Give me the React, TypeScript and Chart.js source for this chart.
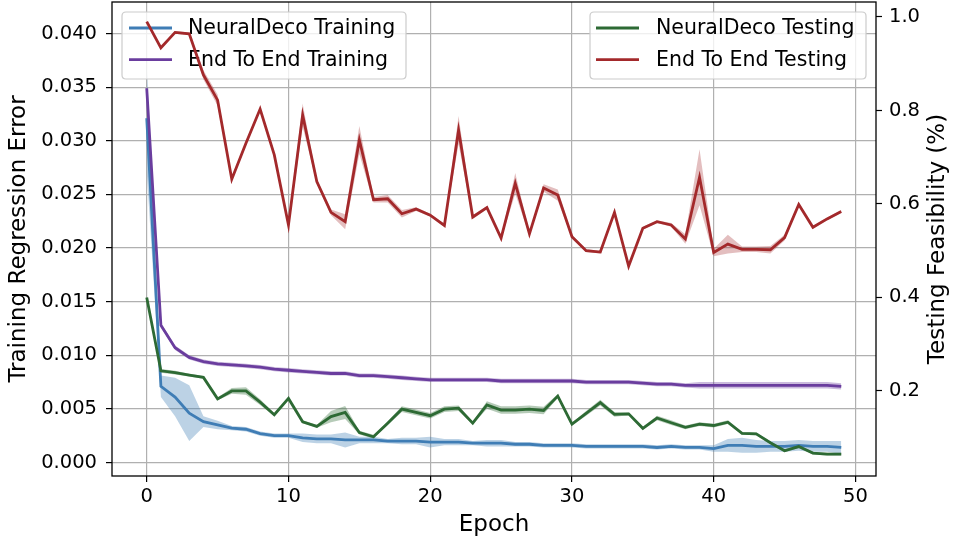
import React, { useEffect, useRef } from 'react';
import { Chart, registerables } from 'chart.js';

Chart.register(...registerables);

// ---------- data ----------
const epochs = [
  0, 1, 2, 3, 4, 5, 6, 7, 8, 9,
  10, 11, 12, 13, 14, 15, 16, 17, 18, 19,
  20, 21, 22, 23, 24, 25, 26, 27, 28, 29,
  30, 31, 32, 33, 34, 35, 36, 37, 38, 39,
  40, 41, 42, 43, 44, 45, 46, 47, 48, 49,
];
const xTicks = [0, 10, 20, 30, 40, 50];
const leftTicks = [0, 0.005, 0.01, 0.015, 0.02, 0.025, 0.03, 0.035, 0.04];
const rightTicks = [0.2, 0.4, 0.6, 0.8, 1.0];

// NeuralDeco Training (left axis)
const neuralTrain = [
  0.0321, 0.0071, 0.0061, 0.0046, 0.0038, 0.0035, 0.0032, 0.0031, 0.0027, 0.0025,
  0.0025, 0.0023, 0.0022, 0.0022, 0.0021, 0.0021, 0.0021, 0.0020, 0.0020, 0.0020,
  0.0019, 0.0019, 0.0019, 0.0018, 0.0018, 0.0018, 0.0017, 0.0017, 0.0016, 0.0016,
  0.0016, 0.0015, 0.0015, 0.0015, 0.0015, 0.0015, 0.0014, 0.0015, 0.0014, 0.0014,
  0.0013, 0.0016, 0.0016, 0.0015, 0.0015, 0.0015, 0.0016, 0.0015, 0.0015, 0.0014,
];
const neuralTrainStd = [
  0.005, 0.001, 0.0018, 0.0026, 0.0005, 0.0004, 0.0002, 0.0002, 0.0002, 0.0002,
  0.0002, 0.0004, 0.0004, 0.0004, 0.0007, 0.0003, 0.0003, 0.0002, 0.0003, 0.0003,
  0.0005, 0.0003, 0.0003, 0.0002, 0.0003, 0.0003, 0.0002, 0.0002, 0.0002, 0.0002,
  0.0002, 0.0002, 0.0002, 0.0002, 0.0002, 0.0002, 0.0002, 0.0002, 0.0002, 0.0002,
  0.0003, 0.0006, 0.0007, 0.0006, 0.0005, 0.0005, 0.0005, 0.0005, 0.0005, 0.0006,
];

// End To End Training (left axis)
const e2eTrain = [
  0.0349, 0.0128, 0.0107, 0.0098, 0.0094, 0.0092, 0.0091, 0.0090, 0.0089, 0.0087,
  0.0086, 0.0085, 0.0084, 0.0083, 0.0083, 0.0081, 0.0081, 0.0080, 0.0079, 0.0078,
  0.0077, 0.0077, 0.0077, 0.0077, 0.0077, 0.0076, 0.0076, 0.0076, 0.0076, 0.0076,
  0.0076, 0.0075, 0.0075, 0.0075, 0.0075, 0.0074, 0.0073, 0.0073, 0.0072, 0.0072,
  0.0072, 0.0072, 0.0072, 0.0072, 0.0072, 0.0072, 0.0072, 0.0072, 0.0072, 0.0071,
];
const e2eTrainStd = [
  0.0004, 0.0002, 0.0002, 0.0002, 0.0002, 0.0002, 0.0002, 0.0002, 0.0002, 0.0002,
  0.0002, 0.0002, 0.0002, 0.0002, 0.0002, 0.0002, 0.0002, 0.0002, 0.0002, 0.0002,
  0.0002, 0.0002, 0.0002, 0.0002, 0.0002, 0.0002, 0.0002, 0.0002, 0.0002, 0.0002,
  0.0002, 0.0002, 0.0002, 0.0002, 0.0002, 0.0002, 0.0002, 0.0002, 0.0002, 0.0003,
  0.0003, 0.0003, 0.0003, 0.0003, 0.0003, 0.0003, 0.0003, 0.0003, 0.0003, 0.0003,
];

// NeuralDeco Testing (right axis)
const neuralTest = [
  0.40, 0.243, 0.239, 0.234, 0.229, 0.183, 0.20, 0.20, 0.176, 0.149,
  0.184, 0.134, 0.124, 0.145, 0.154, 0.111, 0.102, 0.131, 0.161, 0.154,
  0.147, 0.161, 0.163, 0.131, 0.17, 0.159, 0.159, 0.161, 0.158, 0.189,
  0.129, 0.152, 0.175, 0.15, 0.151, 0.12, 0.142, 0.132, 0.122, 0.129,
  0.126, 0.133, 0.109, 0.108, 0.089, 0.072, 0.081, 0.067, 0.065, 0.065,
];
const neuralTestStd = [
  0.003, 0.004, 0.004, 0.003, 0.003, 0.003, 0.006, 0.008, 0.006, 0.003,
  0.003, 0.003, 0.003, 0.012, 0.014, 0.004, 0.004, 0.004, 0.006, 0.006,
  0.006, 0.006, 0.006, 0.003, 0.008, 0.008, 0.008, 0.008, 0.008, 0.004,
  0.003, 0.005, 0.006, 0.005, 0.003, 0.003, 0.005, 0.005, 0.004, 0.004,
  0.004, 0.004, 0.003, 0.003, 0.003, 0.003, 0.003, 0.003, 0.003, 0.003,
];

// End To End Testing (right axis)
const e2eTest = [
  0.99, 0.934, 0.967, 0.964, 0.876, 0.822, 0.653, 0.73, 0.803, 0.705,
  0.555, 0.79, 0.648, 0.582, 0.562, 0.737, 0.609, 0.611, 0.579, 0.589,
  0.576, 0.554, 0.758, 0.572, 0.592, 0.527, 0.644, 0.536, 0.634, 0.619,
  0.53, 0.50, 0.497, 0.582, 0.467, 0.548, 0.562, 0.555, 0.525, 0.657,
  0.496, 0.514, 0.503, 0.503, 0.502, 0.528, 0.599, 0.55, 0.568, 0.584,
];
const e2eTestStd = [
  0.003, 0.003, 0.003, 0.003, 0.01, 0.012, 0.004, 0.003, 0.004, 0.004,
  0.008, 0.025, 0.005, 0.006, 0.016, 0.03, 0.006, 0.008, 0.008, 0.004,
  0.003, 0.003, 0.03, 0.004, 0.003, 0.003, 0.022, 0.004, 0.008, 0.012,
  0.004, 0.003, 0.003, 0.003, 0.003, 0.003, 0.003, 0.004, 0.01, 0.06,
  0.008, 0.02, 0.006, 0.006, 0.008, 0.006, 0.004, 0.003, 0.003, 0.003,
];

const leftLegendLabels = ['NeuralDeco Training', 'End To End Training'];
const rightLegendLabels = ['NeuralDeco Testing', 'End To End Testing'];

// ---------- styles ----------
const FONT = "'DejaVu Sans', sans-serif";
const BLUE = '#3f7db5';
const PURPLE = '#6a3d9e';
const GREEN = '#2d6a34';
const RED = '#a3292b';
const LW = 2.8;

function meanPts(mean: number[]) {
  return epochs.map((e, i) => ({ x: e, y: mean[i] }));
}
function bandPts(mean: number[], std: number[], sign: number) {
  return epochs.map((e, i) => ({ x: e, y: mean[i] + sign * std[i] }));
}
function series(label: string, mean: number[], std: number[], color: string, fillColor: string, axis: string, base: number) {
  return [
    { label, data: meanPts(mean), borderColor: color, borderWidth: LW, pointRadius: 0, yAxisID: axis, fill: false, tension: 0 },
    { label: label + ' lo', data: bandPts(mean, std, -1), borderColor: 'rgba(0,0,0,0)', borderWidth: 1, pointRadius: 0, yAxisID: axis, fill: base + 2, backgroundColor: fillColor },
    { label: label + ' hi', data: bandPts(mean, std, 1), borderColor: 'rgba(0,0,0,0)', borderWidth: 1, pointRadius: 0, yAxisID: axis, fill: false },
  ];
}

function drawLegend(ctx: CanvasRenderingContext2D, x: number, y: number, w: number, h: number, labels: string[], colors: string[], sampleX: number, textX: number) {
  ctx.save();
  const r = 4;
  ctx.beginPath();
  ctx.moveTo(x + r, y);
  ctx.lineTo(x + w - r, y);
  ctx.quadraticCurveTo(x + w, y, x + w, y + r);
  ctx.lineTo(x + w, y + h - r);
  ctx.quadraticCurveTo(x + w, y + h, x + w - r, y + h);
  ctx.lineTo(x + r, y + h);
  ctx.quadraticCurveTo(x, y + h, x, y + h - r);
  ctx.lineTo(x, y + r);
  ctx.quadraticCurveTo(x, y, x + r, y);
  ctx.closePath();
  ctx.fillStyle = 'rgba(255,255,255,0.8)';
  ctx.fill();
  ctx.strokeStyle = '#cccccc';
  ctx.lineWidth = 1.2;
  ctx.stroke();
  labels.forEach((lab, i) => {
    const ry = y + 16 + i * 31.6;
    ctx.beginPath();
    ctx.moveTo(sampleX, ry);
    ctx.lineTo(sampleX + 43, ry);
    ctx.strokeStyle = colors[i];
    ctx.lineWidth = LW;
    ctx.stroke();
    ctx.fillStyle = '#000';
    ctx.font = `20.5px ${FONT}`;
    ctx.textAlign = 'left';
    ctx.textBaseline = 'middle';
    ctx.fillText(lab, textX, ry + 1);
  });
  ctx.restore();
}

const overlay = {
  id: 'overlay',
  afterDatasetDraw(chart: any, args: any) {
    if (args.index === 6) {
      drawLegend(chart.ctx, 122, 12, 284, 67, leftLegendLabels, [BLUE, PURPLE], 129, 188);
    }
  },
  afterDraw(chart: any) {
    const ctx = chart.ctx as CanvasRenderingContext2D;
    const a = chart.chartArea;
    ctx.save();
    ctx.strokeStyle = '#000';
    ctx.lineWidth = 1.3;
    ctx.strokeRect(a.left, a.top, a.right - a.left, a.bottom - a.top);
    ctx.restore();
    drawLegend(ctx, 590, 12, 276, 67, rightLegendLabels, [GREEN, RED], 596, 656);
    ctx.save();
    ctx.translate(938, (a.top + a.bottom) / 2);
    ctx.rotate(-Math.PI / 2);
    ctx.fillStyle = '#000';
    ctx.font = `23px ${FONT}`;
    ctx.textAlign = 'center';
    ctx.textBaseline = 'middle';
    ctx.fillText('Testing Feasibility (%)', 0, 0);
    ctx.restore();
  },
};

export default function App() {
  const ref = useRef<HTMLCanvasElement | null>(null);
  useEffect(() => {
    if (!ref.current) return;
    const datasets: any[] = [
      ...series('End To End Testing', e2eTest, e2eTestStd, RED, 'rgba(163,41,43,0.3)', 'y2', 0),
      ...series('NeuralDeco Testing', neuralTest, neuralTestStd, GREEN, 'rgba(45,106,52,0.35)', 'y2', 3),
      ...series('End To End Training', e2eTrain, e2eTrainStd, PURPLE, 'rgba(106,61,158,0.35)', 'y', 6),
      ...series('NeuralDeco Training', neuralTrain, neuralTrainStd, BLUE, 'rgba(63,125,181,0.35)', 'y', 9),
    ];
    const tickFont = { family: FONT, size: 19.5 };
    const chart = new Chart(ref.current, {
      type: 'line',
      data: { datasets },
      plugins: [overlay],
      options: {
        animation: false,
        responsive: false,
        events: [],
        layout: { padding: { top: 2, left: 0, right: 0, bottom: 0 } },
        plugins: { legend: { display: false }, tooltip: { enabled: false }, filler: { propagate: false } },
        scales: {
          x: {
            type: 'linear',
            min: -2.45,
            max: 51.45,
            afterBuildTicks: (s: any) => { s.ticks = xTicks.map((v) => ({ value: v })); },
            afterFit: (s: any) => { s.height = 67; s.paddingLeft = 0; s.paddingRight = 0; },
            ticks: { font: tickFont, color: '#000', padding: 3, autoSkip: false, maxRotation: 0, callback: (v: any) => String(v) },
            grid: { color: '#b0b0b0', lineWidth: 1.2, tickColor: '#000', tickLength: 6, tickWidth: 1.2 },
            border: { display: false },
            title: { display: true, text: 'Epoch', color: '#000', font: { family: FONT, size: 23 }, padding: { top: 0, bottom: 4 } },
          },
          y: {
            type: 'linear',
            position: 'left',
            min: -0.00126,
            max: 0.04294,
            afterBuildTicks: (s: any) => { s.ticks = leftTicks.map((v) => ({ value: v })); },
            afterFit: (s: any) => { s.width = 112; s.paddingTop = 0; s.paddingBottom = 0; },
            ticks: { font: tickFont, color: '#000', padding: 9, autoSkip: false, callback: (v: any) => Number(v).toFixed(3) },
            grid: { color: '#b0b0b0', lineWidth: 1.2, tickColor: '#000', tickLength: 6, tickWidth: 1.2 },
            border: { display: false },
            title: { display: true, text: 'Training Regression Error', color: '#000', font: { family: FONT, size: 23 }, padding: { top: 5, bottom: 0 } },
          },
          y2: {
            type: 'linear',
            position: 'right',
            min: 0.018,
            max: 1.032,
            afterBuildTicks: (s: any) => { s.ticks = rightTicks.map((v) => ({ value: v })); },
            afterFit: (s: any) => { s.width = 77; s.paddingTop = 0; s.paddingBottom = 0; },
            ticks: { font: tickFont, color: '#000', padding: 7, autoSkip: false, callback: (v: any) => Number(v).toFixed(1) },
            grid: { drawOnChartArea: false, tickColor: '#000', tickLength: 6, tickWidth: 1.2 },
            border: { display: false },
          },
        },
      } as any,
    });
    return () => chart.destroy();
  }, []);
  return (
    <div style={{ position: 'absolute', left: 0, top: 0, width: 953, height: 543 }}>
      <canvas ref={ref} width={953} height={543} style={{ display: 'block' }} />
    </div>
  );
}
